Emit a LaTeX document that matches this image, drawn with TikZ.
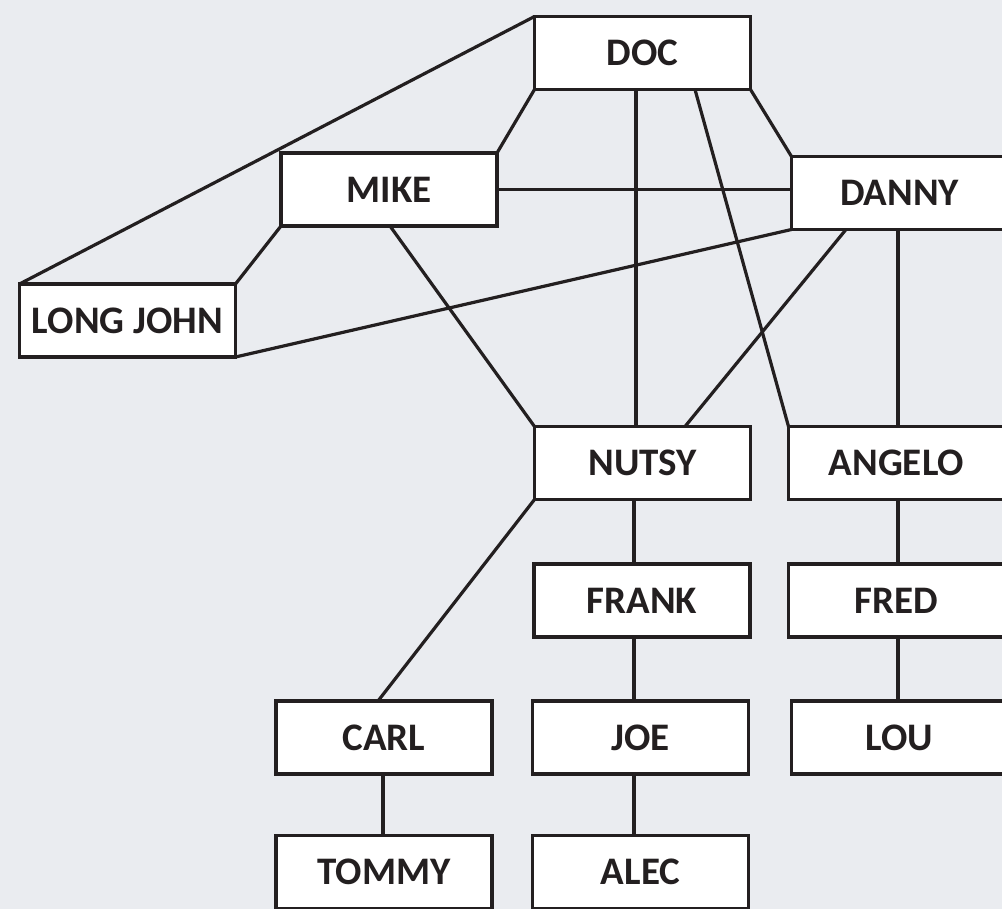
\documentclass[tikz,border=0pt]{standalone}
\usepackage{fontspec}
\setmainfont{Carlito}
\definecolor{bg}{RGB}{234,236,240}
\definecolor{ink}{RGB}{35,31,32}
\begin{document}
\begin{tikzpicture}[x=1pt,y=-1pt,
  box/.style={draw=ink, line width=3.2pt, fill=white, minimum width=216pt, minimum height=73pt,
    inner sep=0pt, outer sep=0pt, text=ink, font=\fontsize{39}{42}\selectfont\bfseries},
  link/.style={draw=ink, line width=3.2pt}]
\useasboundingbox (0,0) rectangle (1002,909);
\clip (0,0) rectangle (1002,909);
\fill[bg] (0,0) rectangle (1002,909);
\coordinate (s1) at (634,0);
\coordinate (s2) at (898,0);
\coordinate (s3) at (383,0);
\coordinate (s4) at (636,0);
% nodes
\node[box] (DOC) at (642.5,53) {DOC};
\node[box] (MIKE) at (389,189.5) {MIKE};
\node[box] (DANNY) at (899.5,193) {DANNY};
\node[box] (LJ) at (127.5,320.5) {LONG JOHN};
\node[box] (NUTSY) at (642.5,463) {NUTSY};
\node[box] (ANGELO) at (896.5,463) {ANGELO};
\node[box] (FRANK) at (642,600.5) {FRANK};
\node[box] (FRED) at (896.5,600.5) {FRED};
\node[box] (JOE) at (640.5,737.5) {JOE};
\node[box] (LOU) at (899.5,737.5) {LOU};
\node[box] (CARL) at (384,737.5) {CARL};
\node[box] (TOMMY) at (384,872) {TOMMY};
\node[box] (ALEC) at (640.5,872) {ALEC};
% connectors
\draw[link] (DOC.north west) -- (LJ.north west);
\draw[link] (DOC.south west) -- (MIKE.north east);
\draw[link] (DOC.south -| s4) -- (NUTSY.north -| s4);
\draw[link] ([xshift=52.5pt]DOC.south) -- (ANGELO.north west);
\draw[link] (DOC.south east) -- (DANNY.north west);
\draw[link] (MIKE.east) -- (MIKE.east -| DANNY.west);
\draw[link] (MIKE.south west) -- (LJ.north east);
\draw[link] ([xshift=1pt]MIKE.south) -- (NUTSY.north west);
\draw[link] (DANNY.south west) -- (LJ.south east);
\draw[link] ([xshift=-53.5pt]DANNY.south) -- ([xshift=42.5pt]NUTSY.north);
\draw[link] (DANNY.south -| s2) -- (ANGELO.north -| s2);
\draw[link] (NUTSY.south west) -- ([xshift=-6pt]CARL.north);
\draw[link] (NUTSY.south -| s1) -- (FRANK.north -| s1);
\draw[link] (FRANK.south -| s1) -- (JOE.north -| s1);
\draw[link] (JOE.south -| s1) -- (ALEC.north -| s1);
\draw[link] (ANGELO.south -| s2) -- (FRED.north -| s2);
\draw[link] (FRED.south -| s2) -- (LOU.north -| s2);
\draw[link] (CARL.south -| s3) -- (TOMMY.north -| s3);
\end{tikzpicture}
\end{document}
